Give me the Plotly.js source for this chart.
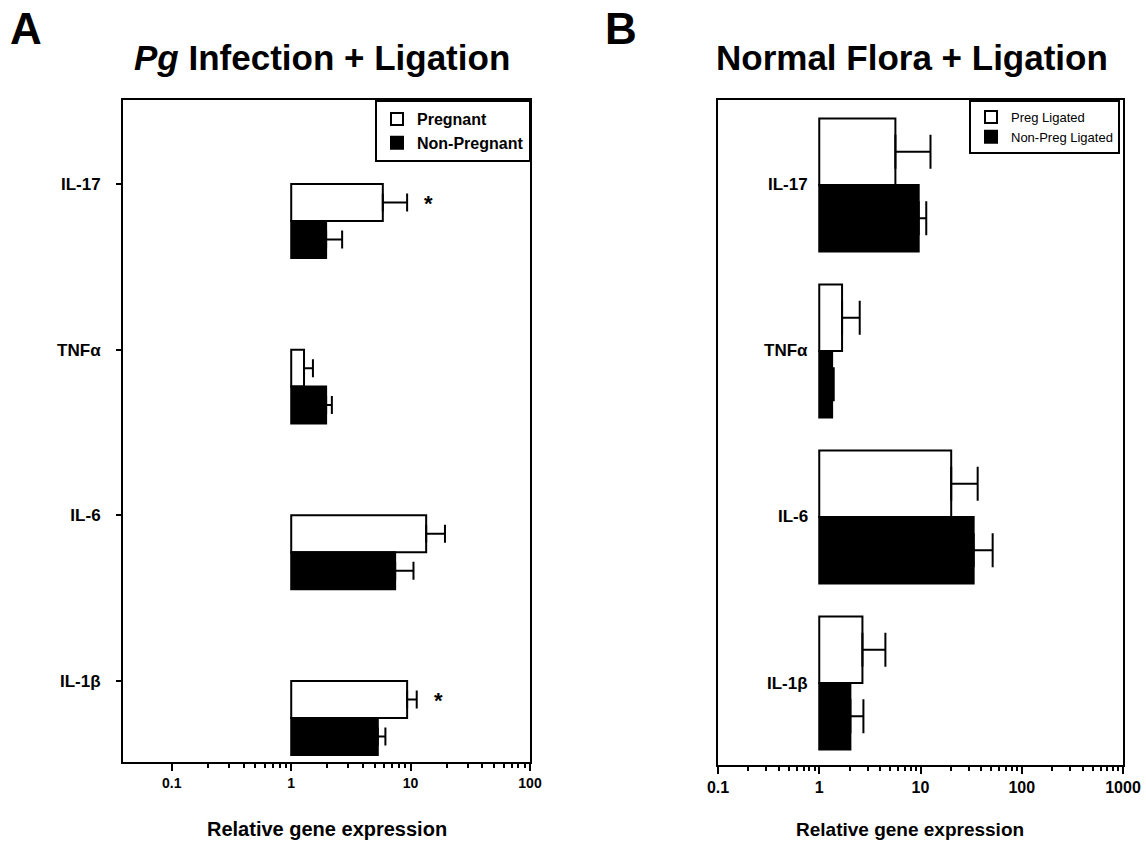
<!DOCTYPE html>
<html><head><meta charset="utf-8">
<script src="https://cdn.plot.ly/plotly-3.0.1.min.js"></script>
<style>html,body{margin:0;padding:0;background:#fff}#chart{width:1146px;height:844px}</style>
</head><body><div id="chart"></div>
<script>
// ---- data ----
const categories = ['IL-17', 'TNFα', 'IL-6', 'IL-1β'];
// Panel A: Pg Infection + Ligation
const pregA = [5.85, 1.28, 13.5, 9.35];
const pregAErr = [3.5, 0.24, 5.9, 1.9];
const nonPregA = [1.96, 1.96, 7.42, 5.31];
const nonPregAErr = [0.71, 0.23, 3.15, 0.84];
const sigA = [true, false, false, true];
// Panel B: Normal Flora + Ligation
const pregB = [5.65, 1.68, 20.1, 2.67];
const pregBErr = [6.9, 0.83, 16.6, 1.83];
const nonPregB = [9.6, 1.34, 33.5, 2.03];
const nonPregBErr = [1.8, 0.05, 18.1, 0.70];
const xTicksA = [0.1, 1, 10, 100];
const xTicksB = [0.1, 1, 10, 100, 1000];
const namesA = ['Pregnant', 'Non-Pregnant'];
const namesB = ['Preg Ligated', 'Non-Preg Ligated'];

// ---- helpers ----
const ypos = categories.map((c, i) => categories.length - 1 - i);
const zeros = categories.map(() => 0);
const wA = 0.223, wB = 0.40;
const AR = 'Liberation Sans, Arial, sans-serif';
function minorVals(lo, hi) {
  const out = [];
  for (let d = lo; d < hi; d++) for (let k = 2; k <= 9; k++) out.push(k * Math.pow(10, d));
  return out;
}
function barTrace(vals, errs, fill, name, w, off, xa, ya, leg, capw) {
  return {
    type: 'bar', orientation: 'h', name: name,
    x: vals.map(v => v - 1), base: 1, y: ypos,
    width: w, offset: off,
    marker: {color: fill, line: {color: '#000', width: 2}},
    error_x: {type: 'data', symmetric: false, array: errs, arrayminus: zeros,
              color: '#000', thickness: 2, width: capw},
    xaxis: xa, yaxis: ya, legend: leg, hoverinfo: 'skip'
  };
}

const traces = [
  barTrace(pregA, pregAErr, '#fff', namesA[0], wA, 0, 'x', 'y', 'legend', 9),
  barTrace(nonPregA, nonPregAErr, '#000', namesA[1], wA, -wA, 'x', 'y', 'legend', 9),
  barTrace(pregB, pregBErr, '#fff', namesB[0], wB, 0, 'x2', 'y2', 'legend2', 17),
  barTrace(nonPregB, nonPregBErr, '#000', namesB[1], wB, -wB, 'x2', 'y2', 'legend2', 17)
];

const annotations = [];
// significance asterisks
sigA.forEach((s, i) => {
  if (!s) return;
  annotations.push({xref: 'x', yref: 'y', x: Math.log10(pregA[i] + pregAErr[i]) + 0.18,
    y: ypos[i] + wA / 2, text: '*', showarrow: false, yshift: -1, yanchor: 'middle',
    font: {family: AR, size: 22, color: '#000', weight: 'bold'}});
});
// panel B category labels (next to the x=1 line)
categories.forEach((c, i) => {
  annotations.push({xref: 'x2', yref: 'y2', x: 0, y: ypos[i], text: c, showarrow: false,
    xanchor: 'right', yanchor: 'middle', xshift: -9,
    font: {family: AR, size: 17, color: '#000', weight: 'bold'}});
});
// titles & letters
function txt(xref, x, ypx, text, size) {
  return {xref: xref, yref: 'paper', x: x, y: (844 - ypx) / 844, text: text, showarrow: false,
    xanchor: 'center', yanchor: 'middle', font: {family: AR, size: size, weight: 'bold', color: '#000'}};
}
annotations.push(
  txt('paper', 26 / 1146, 28, 'A', 44),
  txt('paper', 621 / 1146, 28, 'B', 44),
  txt('x domain', 0.49, 58, '<i>Pg</i> Infection + Ligation', 35),
  txt('x2 domain', 0.48, 58, 'Normal Flora + Ligation', 35),
  txt('x domain', 0.5, 829, 'Relative gene expression', 20),
  txt('x2 domain', 0.475, 829, 'Relative gene expression', 19)
);

const axCommon = {showline: true, mirror: true, linewidth: 2, linecolor: '#000',
  showgrid: false, zeroline: false, fixedrange: true};

const layout = {
  width: 1146, height: 844, margin: {l: 0, r: 0, t: 0, b: 0},
  paper_bgcolor: '#fff', plot_bgcolor: '#fff', barmode: 'overlay',
  font: {family: AR, color: '#000'},
  xaxis: Object.assign({}, axCommon, {
    domain: [123 / 1146, 530 / 1146], anchor: 'y', type: 'log', range: [Math.log10(0.039), 2],
    ticks: 'outside', ticklen: 7, tickwidth: 2, tickcolor: '#000',
    tickmode: 'array', tickvals: xTicksA, ticktext: xTicksA.map(String),
    tickfont: {family: AR, size: 14, weight: 'bold'},
    minor: {ticks: 'outside', ticklen: 4, tickwidth: 2, tickcolor: '#000', tickmode: 'array', tickvals: minorVals(-1, 2)}
  }),
  yaxis: Object.assign({}, axCommon, {
    domain: [(844 - 762) / 844, (844 - 100) / 844], anchor: 'x', range: [-0.266, 3.73],
    ticks: 'outside', ticklen: 5, tickwidth: 2, tickcolor: '#000',
    tickmode: 'array', tickvals: ypos.map(p => p + wA), ticktext: categories,
    ticklabelstandoff: 12,
    tickfont: {family: AR, size: 17, weight: 'bold'}
  }),
  xaxis2: Object.assign({}, axCommon, {
    domain: [718 / 1146, 1123 / 1146], anchor: 'y2', type: 'log', range: [-1, 3],
    ticks: 'outside', ticklen: 7, tickwidth: 2, tickcolor: '#000',
    tickmode: 'array', tickvals: xTicksB, ticktext: xTicksB.map(String),
    tickfont: {family: AR, size: 16, weight: 'bold'},
    minor: {ticks: 'outside', ticklen: 4, tickwidth: 2, tickcolor: '#000', tickmode: 'array', tickvals: minorVals(-1, 3)}
  }),
  yaxis2: Object.assign({}, axCommon, {
    domain: [(844 - 765) / 844, (844 - 100) / 844], anchor: 'x2', range: [-0.494, 3.512],
    ticks: '', showticklabels: false
  }),
  legend: {x: 531 / 1146, xanchor: 'right', y: (844 - 100) / 844, yanchor: 'top',
    bgcolor: '#fff', bordercolor: '#000', borderwidth: 2, traceorder: 'normal',
    font: {family: AR, size: 16, weight: 'bold', color: '#000'}},
  legend2: {x: 1120 / 1146, xanchor: 'right', y: (844 - 100) / 844, yanchor: 'top',
    bgcolor: '#fff', bordercolor: '#000', borderwidth: 2, traceorder: 'normal',
    font: {family: AR, size: 13, color: '#000'}},
  shapes: [
    {type: 'line', xref: 'x', yref: 'y domain', x0: 0, x1: 0, y0: 0, y1: 1, line: {color: '#000', width: 2}, layer: 'above'},
    {type: 'line', xref: 'x2', yref: 'y2 domain', x0: 0, x1: 0, y0: 0, y1: 1, line: {color: '#000', width: 2}, layer: 'above'}
  ],
  annotations: annotations,
  showlegend: true
};

Plotly.newPlot('chart', traces, layout, {displayModeBar: false, staticPlot: true});
</script>
</body></html>
